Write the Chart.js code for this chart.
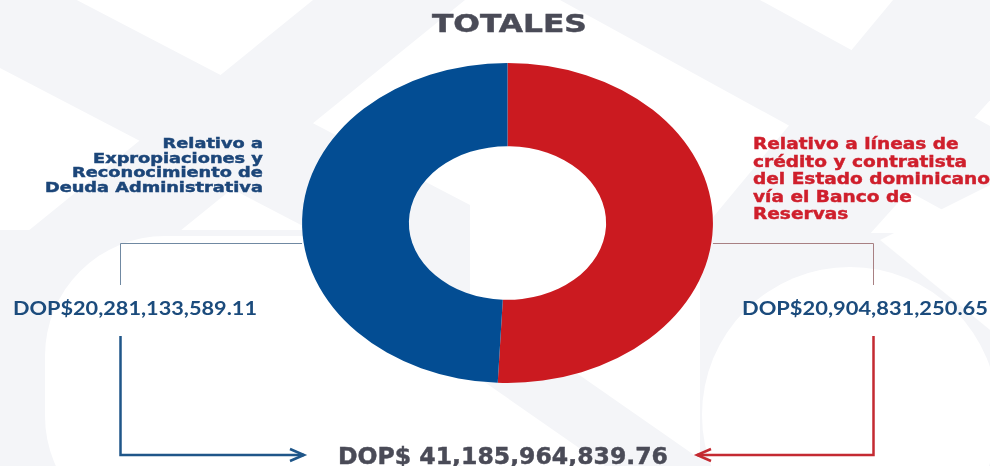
<!DOCTYPE html>
<html><head><meta charset="utf-8">
<script src="https://cdn.jsdelivr.net/npm/chart.js@4/dist/chart.umd.min.js"></script>
<style>
html,body{margin:0;padding:0;background:#fff;}
#wrap{position:relative;width:990px;height:466px;overflow:hidden;background:#fff;}
#bg,#c{position:absolute;left:0;top:0;}
.t{position:absolute;white-space:nowrap;font-family:"DejaVu Sans";font-weight:bold;}
.heavy{-webkit-text-stroke:0.45px currentColor;}
</style></head><body>
<div id="wrap">
<svg id="bg" width="990" height="466" viewBox="0 0 990 466">
  <g fill="#F4F5F8">
    <polygon points="0,-40 0,68 470,313 470,205"/>
    <polygon points="313,0 465,0 -110,466 -262,466"/>
    <rect x="0" y="230" width="340" height="236"/>
    <polygon points="560,0 760,0 990,126 990,236"/>
    <polygon points="893,0 1080,0 860,245 690,245"/>
    <rect x="700" y="233" width="290" height="233"/>
    <polygon points="390,398 318,466 462,466"/>
    <polygon points="470,372 575,372 710,466 605,466"/>
  </g>
  <g fill="#FFFFFF">
    <rect x="45" y="236" width="420" height="300" rx="120" ry="120"/>
    <polygon points="880,240 990,185 990,330"/>
    <circle cx="850" cy="415" r="148"/>
  </g>
</svg>
<canvas id="c" width="990" height="466"></canvas>
<div class="t heavy" id="title"></div>
<div class="t heavy" id="labL"></div>
<div class="t heavy" id="labR"></div>
<div class="t" id="amtL"></div>
<div class="t" id="amtR"></div>
<div class="t heavy" id="total"></div>
</div>
<script>
// ---- data ----
const titleText = "TOTALES";
const categories = ["Relativo a líneas de crédito y contratista del Estado dominicano vía el Banco de Reservas",
                    "Relativo a Expropiaciones y Reconocimiento de Deuda Administrativa"];
const labelLinesRed = ["Relativo a líneas de", "crédito y contratista", "del Estado dominicano", "vía el Banco de", "Reservas"];
const labelLinesBlue = ["Relativo a", "Expropiaciones y", "Reconocimiento de", "Deuda Administrativa"];
const values = [20904831250.65, 20281133589.11];
const sliceColors = ["#CB1A20", "#034D93"];
const currency = "DOP$";

const fmt = v => v.toLocaleString('en-US', {minimumFractionDigits: 2, maximumFractionDigits: 2});
const total = values.reduce((a, b) => a + b, 0);

// ---- text ----
function setText(id, html, css) {
  const el = document.getElementById(id);
  el.innerHTML = html;
  Object.assign(el.style, css);
  return el;
}
function fit(el, x, w, align) {
  el.style.transform = 'none';
  const nat = el.getBoundingClientRect().width;
  const s = w / nat;
  if (align === 'r') { el.style.left = (x - nat) + 'px'; el.style.transformOrigin = 'right top'; }
  else if (align === 'c') { el.style.left = (x - nat / 2) + 'px'; el.style.transformOrigin = 'center top'; }
  else { el.style.left = x + 'px'; el.style.transformOrigin = 'left top'; }
  el.style.transform = 'scaleX(' + s + ')';
}
const tTitle = setText('title', titleText, {fontSize: '24px', lineHeight: '24px', top: '12px', color: '#4A4B57'});
const tL = setText('labL', labelLinesBlue.join('<br>'), {fontSize: '14px', lineHeight: '14.7px', top: '136px', color: '#1C4679', textAlign: 'right'});
const tR = setText('labR', labelLinesRed.join('<br>'), {fontSize: '16px', lineHeight: '17.5px', top: '135px', color: '#CF1F2C', textAlign: 'left'});
const amtCss = {fontFamily: 'Lato', fontWeight: '700', fontSize: '19.5px', lineHeight: '19.5px', top: '298px', color: '#1B4B7C'};
const tAL = setText('amtL', currency + fmt(values[1]), amtCss);
const tAR = setText('amtR', currency + fmt(values[0]), amtCss);
const tT = setText('total', currency + ' ' + fmt(total), {fontSize: '23px', lineHeight: '23px', top: '445px', color: '#4A4B57'});
fit(tTitle, 509.5, 155, 'c');
fit(tL, 263, 218, 'r');
fit(tR, 753, 237, 'l');
fit(tAL, 13, 244, 'l');
fit(tAR, 742, 246, 'l');
fit(tT, 338, 330, 'l');

// ---- chart ----
const stretch = 1.284;
const ellipse = {
  id: 'ellipse',
  beforeDatasetsDraw(chart) {
    const a = chart.getDatasetMeta(0).data[0];
    const ctx = chart.ctx;
    ctx.save();
    ctx.translate(a.x, 0); ctx.scale(stretch, 1); ctx.translate(-a.x, 0);
  },
  afterDatasetsDraw(chart) { chart.ctx.restore(); }
};
const connectors = {
  id: 'connectors',
  afterDraw(chart) {
    const a = chart.getDatasetMeta(0).data[0];
    const ctx = chart.ctx;
    const R = a.outerRadius * stretch;
    const yy = Math.round(a.y + 20) + 0.5;
    const xl = 120.5, xr = 873.5, yTop2 = 336, yBot = 455, yEnd1 = 285;
    ctx.save();
    ctx.lineWidth = 1;
    ctx.strokeStyle = '#7089A2';
    ctx.beginPath(); ctx.moveTo(a.x - R, yy); ctx.lineTo(xl, yy); ctx.lineTo(xl, yEnd1); ctx.stroke();
    ctx.strokeStyle = '#A88083';
    ctx.beginPath(); ctx.moveTo(a.x + R, yy); ctx.lineTo(xr, yy); ctx.lineTo(xr, yEnd1); ctx.stroke();
    ctx.lineWidth = 2.5;
    ctx.lineJoin = 'miter';
    ctx.strokeStyle = '#1F5689';
    ctx.beginPath(); ctx.moveTo(xl, yTop2); ctx.lineTo(xl, yBot); ctx.lineTo(304, yBot); ctx.stroke();
    ctx.beginPath(); ctx.moveTo(290, yBot - 6); ctx.lineTo(304, yBot); ctx.lineTo(290, yBot + 6); ctx.stroke();
    ctx.strokeStyle = '#C42A32';
    ctx.beginPath(); ctx.moveTo(xr, yTop2); ctx.lineTo(xr, yBot); ctx.lineTo(697, yBot); ctx.stroke();
    ctx.beginPath(); ctx.moveTo(711, yBot - 6); ctx.lineTo(697, yBot); ctx.lineTo(711, yBot + 6); ctx.stroke();
    ctx.restore();
  }
};
new Chart(document.getElementById('c'), {
  type: 'doughnut',
  data: {
    labels: categories,
    datasets: [{ data: values, backgroundColor: sliceColors, borderWidth: 0, hoverOffset: 0 }]
  },
  options: {
    responsive: false,
    animation: false,
    cutout: '48%',
    rotation: 0,
    layout: { padding: { top: 63, bottom: 83, left: 347.5, right: 322.5 } },
    plugins: { legend: { display: false }, tooltip: { enabled: false }, title: { display: false } },
    events: []
  },
  plugins: [ellipse, connectors]
});
</script>
</body></html>
